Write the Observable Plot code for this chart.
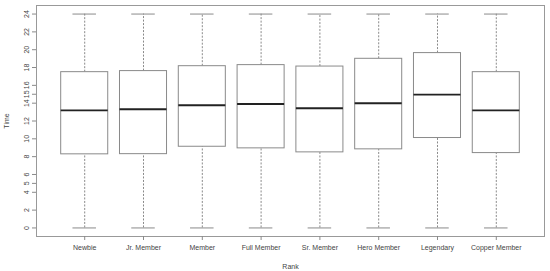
<!DOCTYPE html>
<html>
<head>
<meta charset="utf-8">
<script src="https://cdn.jsdelivr.net/npm/d3@7"></script>
<script src="https://cdn.jsdelivr.net/npm/@observablehq/plot@0.6"></script>
<style>
  html, body { margin: 0; padding: 0; background: #fff; }
  #chart svg { display: block; }
</style>
</head>
<body>
<div id="chart"></div>
<script>
const categories = ["Newbie", "Jr. Member", "Member", "Full Member", "Sr. Member", "Hero Member", "Legendary", "Copper Member"];
const mins    = [0, 0, 0, 0, 0, 0, 0, 0];
const q1s     = [8.26, 8.28, 9.11, 8.93, 8.48, 8.82, 10.09, 8.40];
const medians = [13.2, 13.32, 13.77, 13.91, 13.43, 13.99, 14.96, 13.2];
const q3s     = [17.48, 17.6, 18.15, 18.27, 18.11, 18.98, 19.62, 17.48];
const maxs    = [24, 24, 24, 24, 24, 24, 24, 24];
const yTicks  = [0, 2, 4, 5, 6, 8, 10, 12, 14, 15, 16, 18, 20, 22, 24];

const data = categories.map((c, i) => ({
  rank: c, pos: i + 1,
  min: mins[i], q1: q1s[i], median: medians[i], q3: q3s[i], max: maxs[i]
}));

const boxHalf = 0.4, capHalf = 0.2;
const grey = "#8a8a8a";

const chart = Plot.plot({
  width: 550,
  height: 271,
  marginTop: 5,
  marginBottom: 35,
  marginLeft: 36,
  marginRight: 6,
  style: { fontFamily: "Liberation Sans, Arial, sans-serif", fontSize: "7px", color: "#444", background: "#fff" },
  x: { type: "linear", domain: [0.18, 8.82] },
  y: { domain: [-0.96, 24.96] },
  marks: [
    // whiskers
    Plot.ruleX(data, { x: "pos", y1: "q3", y2: "max", stroke: grey, strokeDasharray: "2,1.5" }),
    Plot.ruleX(data, { x: "pos", y1: "min", y2: "q1", stroke: grey, strokeDasharray: "2,1.5" }),
    // caps
    Plot.ruleY(data, { y: "max", x1: d => d.pos - capHalf, x2: d => d.pos + capHalf, stroke: grey }),
    Plot.ruleY(data, { y: "min", x1: d => d.pos - capHalf, x2: d => d.pos + capHalf, stroke: grey }),
    // boxes
    Plot.rect(data, { x1: d => d.pos - boxHalf, x2: d => d.pos + boxHalf, y1: "q1", y2: "q3", fill: "white", stroke: grey }),
    // medians
    Plot.ruleY(data, { y: "median", x1: d => d.pos - boxHalf, x2: d => d.pos + boxHalf, stroke: "#222", strokeWidth: 1.8 }),
    Plot.frame({ stroke: "#999" }),
    Plot.axisY({
      ticks: yTicks, tickFormat: d => String(d), tickRotate: -90,
      tickSize: 4, tickPadding: 4, stroke: grey,
      label: "Time", labelAnchor: "center", labelArrow: "none", labelOffset: 32
    }),
    Plot.axisX({
      ticks: categories.map((c, i) => i + 1), tickFormat: d => categories[d - 1],
      tickSize: 4, tickPadding: 5, stroke: grey,
      label: "Rank", labelAnchor: "center", labelArrow: "none", labelOffset: 32
    })
  ]
});
document.getElementById("chart").appendChild(chart);
</script>
</body>
</html>
